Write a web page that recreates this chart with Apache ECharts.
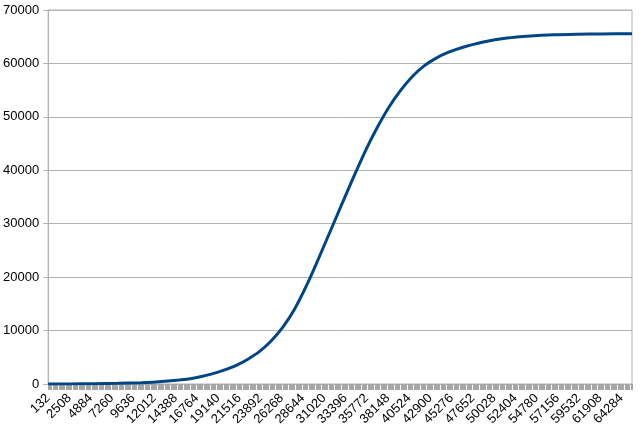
<!DOCTYPE html>
<html>
<head>
<meta charset="utf-8">
<script src="https://cdn.jsdelivr.net/npm/echarts@6/dist/echarts.min.js"></script>
<style>
html,body{margin:0;padding:0;background:#fff;}
#chart{width:643px;height:434px;}
</style>
</head>
<body>
<div id="chart"></div>
<script>
// Category step and count of the x axis (sample positions)
var categoryStep = 132;
var categoryCount = 496;
// Tick labels shown on the x axis (every 18th category)
var tickLabels = [132, 2508, 4884, 7260, 9636, 12012, 14388, 16764, 19140, 21516, 23892, 26268, 28644, 31020, 33396, 35772, 38148, 40524, 42900, 45276, 47652, 50028, 52404, 54780, 57156, 59532, 61908, 64284];
// Curve points (x position, value)
var curveX = [132, 2640, 5280, 7920, 10560, 11880, 13200, 14520, 15840, 17160, 18480, 19800, 21120, 22440, 23760, 25080, 26400, 27720, 29040, 30360, 31680, 33000, 34320, 35640, 36960, 38280, 39600, 40920, 42240, 43560, 44880, 46200, 48840, 51480, 54120, 56760, 59400, 62040, 65472];
var curveY = [0, 20, 60, 130, 250, 350, 500, 700, 950, 1350, 1900, 2600, 3450, 4600, 6050, 8050, 10650, 14050, 18400, 23350, 28500, 33650, 38750, 43650, 48000, 51850, 55000, 57600, 59600, 61000, 62050, 62850, 64000, 64750, 65150, 65380, 65480, 65530, 65560];
// Y axis range
var yMin = 0, yMax = 70000, yStep = 10000;

var categories = [];
for (var i = 1; i <= categoryCount; i++) categories.push(String(categoryStep * i));
var labelSet = {};
tickLabels.forEach(function (v) { labelSet[String(v)] = true; });
var points = curveX.map(function (x, i) { return [x, curveY[i]]; });

var chart = echarts.init(document.getElementById('chart'), null, {renderer: 'canvas'});
var font = '"Liberation Sans", Arial, sans-serif';
chart.setOption({
  animation: false,
  backgroundColor: '#ffffff',
  grid: {left: 46, right: 11, top: 10, bottom: 50, show: true, borderColor: '#b3b3b3', borderWidth: 1},
  xAxis: [{
    type: 'category',
    data: categories,
    boundaryGap: false,
    axisLine: {show: true, lineStyle: {color: '#b3b3b3', width: 1}},
    axisTick: {show: false},
    axisLabel: {
      interval: function (idx, val) { return !!labelSet[val]; },
      rotate: 45, margin: 12, fontSize: 13, color: '#000', fontFamily: font
    },
    splitLine: {show: false}
  }, {
    type: 'value',
    position: 'bottom',
    min: categoryStep,
    max: categoryStep * categoryCount,
    interval: categoryStep,
    axisLine: {show: false},
    axisTick: {show: true, length: 6, lineStyle: {color: '#a6a6a6', width: 1}},
    axisLabel: {show: false},
    splitLine: {show: false}
  }],
  yAxis: {
    type: 'value',
    min: yMin, max: yMax, interval: yStep,
    axisLine: {show: true, lineStyle: {color: '#b3b3b3', width: 1}},
    axisTick: {show: true, length: 5, lineStyle: {color: '#b3b3b3'}},
    axisLabel: {fontSize: 13, color: '#000', margin: 9, fontFamily: font,
      formatter: function (v) { return String(v); }},
    splitLine: {show: true, lineStyle: {color: '#b3b3b3', width: 1}}
  },
  series: [{
    type: 'line',
    xAxisIndex: 1,
    data: points,
    showSymbol: false,
    smooth: 0.3,
    lineStyle: {color: '#004586', width: 3},
    itemStyle: {color: '#004586'}
  }]
});
</script>
</body>
</html>
